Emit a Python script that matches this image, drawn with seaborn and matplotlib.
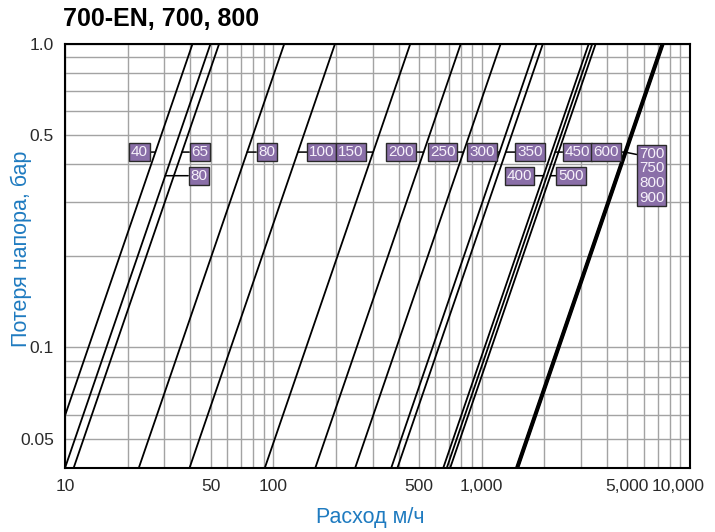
import seaborn as sns
import matplotlib.pyplot as plt
import matplotlib.transforms as mtransforms
from matplotlib.ticker import FixedLocator, LogLocator, NullFormatter
import numpy as np
import pandas as pd

# Kv values (flow in m/h at 1 bar), one per valve size
sizes = ["40", "80", "65", "80", "100", "150", "200", "250", "300", "350",
         "400", "450", "500", "600", "700", "750", "800", "900"]
kv = [41, 50, 55, 113, 198, 455, 795, 1235, 1840, 1970,
      3270, 3400, 3530, 7300, 7350, 7400, 7450, 7500]

# label tags: text, which curve it points to, tag position (flow), pressure row
tag_text = ["40", "65", "80", "80", "100", "150", "200", "250", "300", "350",
            "400", "450", "500", "600", "700\n750\n800\n900"]
tag_curve = [0, 2, 1, 3, 4, 5, 6, 7, 8, 9, 10, 11, 12, 13, 14]
tag_q = [22.8, 44.5, 44.0, 93.3, 171, 236, 410, 649, 1004, 1708,
         1521, 2887, 2687, 3955, 6555]
tag_dp = [0.439, 0.439, 0.367, 0.439, 0.439, 0.439, 0.439, 0.439, 0.439, 0.439,
          0.367, 0.439, 0.367, 0.439, 0.367]

x_ticks = [10, 50, 100, 500, 1000, 5000, 10000]
x_tick_labels = ["10", "50", "100", "500", "1,000", "5,000", "10,000"]
y_ticks = [0.05, 0.1, 0.5, 1.0]
y_tick_labels = ["0.05", "0.1", "0.5", "1.0"]

# dp = (Q / Kv)^2 -> straight lines on log-log axes
dp_ends = np.array([0.02, 1.2])
rows = []
for i, k in enumerate(kv):
    for d in dp_ends:
        rows.append({"curve": i, "Q": k * np.sqrt(d), "dp": d})
df = pd.DataFrame(rows)

sns.set_style("white")
plt.rcParams["font.family"] = ["Liberation Sans", "DejaVu Sans"]

fig = plt.figure(figsize=(7.15, 5.32), dpi=100)
ax = fig.add_axes([0.0909, 0.1203, 0.8741, 0.7979])

sns.lineplot(data=df, x="Q", y="dp", units="curve", estimator=None,
             color="black", lw=1.3, ax=ax, legend=False, zorder=3)
ax.set_xlabel("")
ax.set_ylabel("")

ax.set_xscale("log")
ax.set_yscale("log")
ax.set_xlim(10, 10000)
ax.set_ylim(0.04, 1.0)

ax.xaxis.set_major_locator(FixedLocator(x_ticks))
ax.set_xticklabels(x_tick_labels)
ax.yaxis.set_major_locator(FixedLocator(y_ticks))
ax.set_yticklabels(y_tick_labels)
ax.xaxis.set_minor_locator(LogLocator(base=10, subs=np.arange(1, 10)))
ax.yaxis.set_minor_locator(LogLocator(base=10, subs=np.arange(1, 10)))
ax.xaxis.set_minor_formatter(NullFormatter())
ax.yaxis.set_minor_formatter(NullFormatter())

ax.grid(True, which="both", color="#a3a3a3", lw=1.0, zorder=0)
ax.tick_params(which="major", direction="out", length=5, width=1.2,
               color="black", labelsize=12.5, labelcolor="#2a2a2a", pad=3)
ax.tick_params(which="minor", length=0)
# last x label shifted left so it fits
shift = mtransforms.ScaledTranslation(-12 / 100, 0, fig.dpi_scale_trans)
xl = ax.get_xticklabels()
xl[-1].set_transform(xl[-1].get_transform() + shift)

for s in ax.spines.values():
    s.set_color("black")
    s.set_linewidth(1.5)
    s.set_zorder(5)

# size tags with leader lines
for txt, ci, q, d in zip(tag_text, tag_curve, tag_q, tag_dp):
    lead_d = 0.439
    relpos = (0.5, 0.5)
    if "\n" in txt:
        relpos = (0.0, 0.86)
    else:
        lead_d = d
    qx = kv[ci] * np.sqrt(lead_d)
    ax.annotate(txt, xy=(qx, lead_d), xytext=(q, d), ha="center", va="center",
                fontsize=11, color="#f6f1fa", linespacing=1.05, zorder=6,
                bbox=dict(boxstyle="square,pad=0.12", fc="#8a6fa8", ec="#2a2a2a", lw=1),
                arrowprops=dict(arrowstyle="-", color="black", lw=1.1,
                                shrinkA=0, shrinkB=0, relpos=relpos))

fig.text(370 / 715, 1 - 517 / 532, "Расход м/ч", fontsize=15.5, color="#1f7bc0",
         ha="center", va="center")
fig.text(21 / 715, 1 - 249 / 532, "Потеря напора, бар", fontsize=15.5,
         color="#1f7bc0", ha="center", va="center", rotation=90)

fig.text(0.088, 0.965, "700-EN, 700, 800", fontsize=18, fontweight="bold",
         color="black", ha="left", va="center")

fig.savefig("out.png", dpi=100)
